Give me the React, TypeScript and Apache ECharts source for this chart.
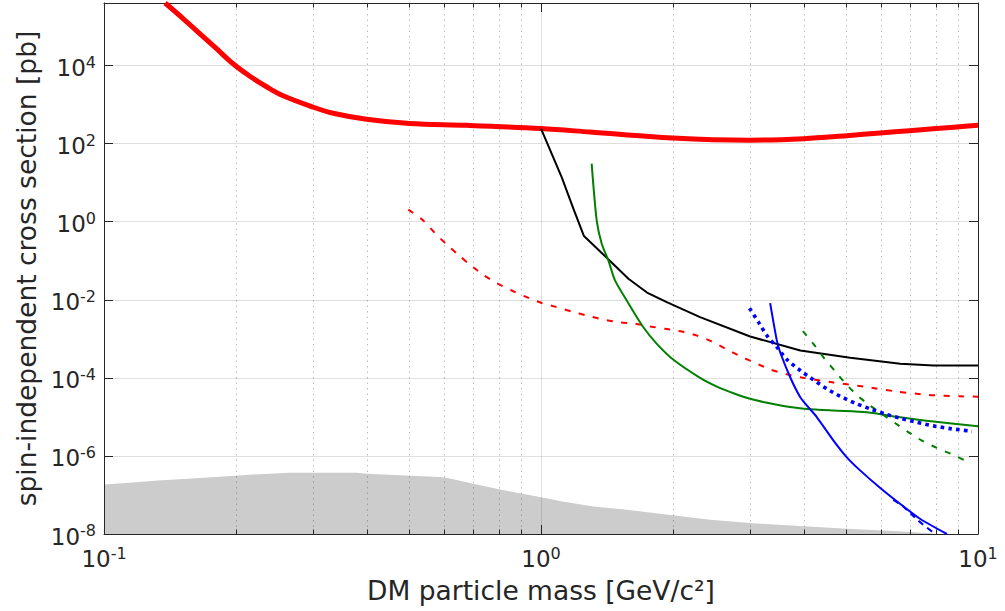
import React, { useEffect, useRef } from "react";
import * as echarts from "echarts";

// ---- axes ----
const X_MIN = 0.1;
const X_MAX = 10;
const Y_MIN = 1e-8;
const Y_MAX = 4e5;
const X_TICKS = [0.1, 1, 10];
const X_MINOR = [0.2, 0.3, 0.4, 0.5, 0.6, 0.7, 0.8, 0.9, 2, 3, 4, 5, 6, 7, 8, 9];
const Y_TICKS = [1e-8, 1e-6, 1e-4, 1e-2, 1, 1e2, 1e4];
const X_TITLE = "DM particle mass [GeV/c²]";
const Y_TITLE = "spin-independent cross section [pb]";

// ---- series (mass in GeV/c², cross section in pb) ----
const RED_THICK_X = [0.138, 0.1517, 0.1656, 0.1809, 0.1974, 0.2157, 0.2355, 0.257, 0.2995, 0.3346, 0.399, 0.501, 0.676, 1.0, 1.295, 2.0, 3.0, 3.99, 5.01, 5.97, 6.97, 8.95, 10];
const RED_THICK_Y = [4.0e5, 1.6e5, 6.6e4, 2.7e4, 1.11e4, 5320, 2860, 1683, 879, 598, 420, 326, 294, 243, 198, 139, 122, 134, 160, 187, 215, 267, 294];

const BLACK_X = [1.0, 1.115, 1.186, 1.254, 1.414, 1.585, 1.748, 1.94, 2.312, 3.01, 3.92, 5.1, 6.64, 7.91, 10];
const BLACK_Y = [243, 13.9, 2.15, 0.428, 0.119, 0.0345, 0.0153, 0.00867, 0.00358, 0.001146, 5.0e-4, 3.26e-4, 2.29e-4, 2.07e-4, 2.07e-4];

const RED_DASH_X = [0.497, 0.5376, 0.572, 0.608, 0.6466, 0.6877, 0.7376, 0.7917, 0.857, 0.919, 1.0, 1.086, 1.176, 1.272, 1.389, 1.503, 1.642, 1.777, 1.923, 2.1, 2.273, 2.46, 2.639, 2.856, 3.09, 3.345, 3.62, 3.92, 4.67, 5.47, 6.53, 7.71, 9.11, 10];
const RED_DASH_Y = [2.03, 1.08, 0.51, 0.262, 0.1426, 0.0789, 0.0437, 0.0267, 0.0173, 0.01216, 0.00838, 0.00646, 0.00501, 0.00396, 0.00312, 0.00267, 0.00243, 0.00207, 0.0018, 0.00154, 0.001216, 8.53e-4, 5.64e-4, 3.58e-4, 2.43e-4, 1.63e-4, 1.27e-4, 1.035e-4, 7.57e-5, 5.98e-5, 4.45e-5, 3.66e-5, 3.37e-5, 3.3e-5];

const GREEN_X = [1.306, 1.341, 1.377, 1.426, 1.477, 1.571, 1.715, 1.841, 2.01, 2.312, 2.526, 2.757, 3.01, 3.29, 3.587, 4.06, 4.67, 5.57, 6.64, 7.91, 10];
const GREEN_Y = [30.7, 1.08, 0.273, 0.102, 0.0313, 0.0096, 0.00198, 7.44e-4, 2.9e-4, 1.0e-4, 5.98e-5, 4.03e-5, 2.9e-5, 2.29e-5, 1.91e-5, 1.6e-5, 1.45e-5, 1.31e-5, 9.77e-6, 7.58e-6, 5.74e-6];

const GREEN_DASH_X = [3.976, 4.24, 4.47, 4.71, 4.97, 5.28, 5.62, 6.03, 6.47, 6.94, 7.44, 8.05, 8.72, 9.39];
const GREEN_DASH_Y = [1.57e-3, 6.46e-4, 2.94e-4, 1.48e-4, 7.27e-5, 3.66e-5, 2.07e-5, 1.19e-5, 6.85e-6, 4.03e-6, 2.47e-6, 1.6e-6, 1.1e-6, 7.45e-7];

const BLUE_X = [3.345, 3.465, 3.526, 3.717, 3.92, 4.06, 4.28, 4.67, 5.01, 5.38, 5.975, 6.64, 7.38, 8.49];
const BLUE_Y = [8.18e-3, 9.0e-4, 4.53e-4, 1.035e-4, 3.18e-5, 1.95e-5, 9.77e-6, 2.47e-6, 9.2e-7, 4.2e-7, 1.51e-7, 5.87e-8, 2.42e-8, 1.0e-8];

const BLUE_DOT_X = [3.0, 3.146, 3.287, 3.465, 3.653, 3.92, 4.2, 4.51, 4.84, 5.24, 5.67, 6.13, 6.64, 7.25, 7.91, 8.64, 9.69];
const BLUE_DOT_Y = [6.1e-3, 2.67e-3, 1.216e-3, 6.1e-4, 2.94e-4, 1.54e-4, 8.9e-5, 5.22e-5, 3.38e-5, 2.23e-5, 1.6e-5, 1.19e-5, 9.2e-6, 7.27e-6, 5.88e-6, 5.0e-6, 4.27e-6];

const BLUE_DASH_X = [6.4, 6.75, 7.3, 7.98];
const BLUE_DASH_Y = [7.5e-8, 5.0e-8, 2.19e-8, 1.0e-8];

const FLOOR_X = [0.1, 0.1146, 0.133, 0.1557, 0.184, 0.2194, 0.266, 0.3785, 0.399, 0.4754, 0.587, 0.608, 0.6877, 0.806, 1.0, 1.12, 1.318, 1.571, 2.0, 2.44, 3.0, 3.99, 5.01, 6.41, 7.78, 8.0];
const FLOOR_Y = [1.84e-7, 2.07e-7, 2.33e-7, 2.62e-7, 2.94e-7, 3.32e-7, 3.73e-7, 3.73e-7, 3.5e-7, 3.18e-7, 2.9e-7, 2.75e-7, 2.03e-7, 1.37e-7, 8.7e-8, 6.8e-8, 5.1e-8, 4.2e-8, 3.0e-8, 2.33e-8, 1.9e-8, 1.57e-8, 1.37e-8, 1.19e-8, 1.05e-8, 1.0e-8];

// ---- styles ----
const FONT = "DejaVu Sans";
const AXIS_COLOR = "#262626";
const GRID_COLOR = "rgba(38,38,38,0.15)";
const MINOR_GRID_COLOR = "rgba(38,38,38,0.3)";

const zip = (xs: number[], ys: number[]) => xs.map((x, i) => [x, ys[i]]);

const powLabel = (v: number) => `{b|10}{s|${Math.round(Math.log10(v))}}`;
const rich = {
  b: { fontFamily: FONT, fontSize: 23, lineHeight: 28, color: AXIS_COLOR },
  s: { fontFamily: FONT, fontSize: 16, lineHeight: 14, verticalAlign: "top", color: AXIS_COLOR },
};

function lineSeries(name: string, xs: number[], ys: number[], color: string, width: number, type: any, smooth: number | boolean, z = 3) {
  return {
    name,
    type: "line",
    data: zip(xs, ys),
    xAxisIndex: 0,
    yAxisIndex: 0,
    showSymbol: false,
    symbol: "none",
    smooth,
    z,
    silent: true,
    lineStyle: { color, width, type, cap: "butt", join: "round" },
  };
}

export default function App() {
  const ref = useRef<HTMLDivElement>(null);
  useEffect(() => {
    if (!ref.current) return;
    const chart = echarts.init(ref.current, undefined, { renderer: "svg" });
    const axisLine = { show: true, onZero: false, lineStyle: { color: AXIS_COLOR, width: 1 } };
    const option: any = {
      animation: false,
      backgroundColor: "#ffffff",
      grid: { left: 104, top: 3, right: 27, bottom: 77, containLabel: false },
      xAxis: [
        {
          type: "log",
          logBase: 10,
          position: "bottom",
          min: X_MIN,
          max: X_MAX,
          axisLine,
          axisTick: { show: true, inside: true, length: 9, customValues: X_TICKS, lineStyle: { color: AXIS_COLOR } },
          axisLabel: { customValues: X_TICKS, formatter: powLabel, rich, margin: 11, color: AXIS_COLOR },
          splitLine: { show: true, lineStyle: { color: GRID_COLOR, width: 1 } },
          name: X_TITLE,
          nameLocation: "middle",
          nameGap: 43,
          nameTextStyle: { fontFamily: FONT, fontSize: 26.5, color: AXIS_COLOR },
        },
        {
          type: "log",
          logBase: 10,
          position: "top",
          min: X_MIN,
          max: X_MAX,
          axisLine,
          axisTick: { show: true, inside: true, length: 9, customValues: X_TICKS, lineStyle: { color: AXIS_COLOR } },
          axisLabel: { show: false },
          splitLine: { show: false },
        },
      ],
      yAxis: [
        {
          type: "log",
          logBase: 10,
          position: "left",
          min: Y_MIN,
          max: Y_MAX,
          axisLine,
          axisTick: { show: true, inside: true, length: 9, customValues: Y_TICKS, lineStyle: { color: AXIS_COLOR } },
          axisLabel: { customValues: Y_TICKS, formatter: powLabel, rich, margin: 8, padding: [5, 0, 0, 0], color: AXIS_COLOR },
          splitLine: { show: true, lineStyle: { color: GRID_COLOR, width: 1 } },
          name: Y_TITLE,
          nameLocation: "middle",
          nameGap: 63,
          nameRotate: 90,
          nameTextStyle: { fontFamily: FONT, fontSize: 26.5, color: AXIS_COLOR },
        },
        {
          type: "log",
          logBase: 10,
          position: "right",
          min: Y_MIN,
          max: Y_MAX,
          axisLine,
          axisTick: { show: true, inside: true, length: 9, customValues: Y_TICKS, lineStyle: { color: AXIS_COLOR } },
          axisLabel: { show: false },
          splitLine: { show: false },
        },
      ],
      series: [
        {
          name: "floor",
          type: "line",
          data: zip(FLOOR_X, FLOOR_Y),
          xAxisIndex: 0,
          yAxisIndex: 0,
          showSymbol: false,
          symbol: "none",
          z: -1,
          silent: true,
          lineStyle: { width: 0, color: "#cccccc" },
          areaStyle: { color: "#cccccc", opacity: 1, origin: "start" },
        },
        {
          name: "minor",
          type: "custom",
          xAxisIndex: 0,
          yAxisIndex: 0,
          z: 1,
          silent: true,
          data: X_MINOR.map((v) => [v, Y_MIN]),
          renderItem: (params: any, api: any) => {
            const p = api.coord([api.value(0), api.value(1)]);
            const cs = params.coordSys;
            const top = cs.y;
            const bottom = cs.y + cs.height;
            const x = Math.round(p[0]) + 0.5;
            return {
              type: "group",
              children: [
                { type: "line", shape: { x1: x, y1: top, x2: x, y2: bottom }, style: { stroke: MINOR_GRID_COLOR, lineWidth: 1, lineDash: [1.5, 4] } },
                { type: "line", shape: { x1: x, y1: bottom, x2: x, y2: bottom - 4.5 }, style: { stroke: AXIS_COLOR, lineWidth: 1 } },
                { type: "line", shape: { x1: x, y1: top, x2: x, y2: top + 4.5 }, style: { stroke: AXIS_COLOR, lineWidth: 1 } },
              ],
            };
          },
        },
        lineSeries("red", RED_THICK_X, RED_THICK_Y, "#ff0000", 5, "solid", 0.35),
        lineSeries("black", BLACK_X, BLACK_Y, "#000000", 2, "solid", false),
        lineSeries("redDash", RED_DASH_X, RED_DASH_Y, "#ff0000", 2, [6, 8.5], 0.25),
        lineSeries("green", GREEN_X, GREEN_Y, "#008000", 2, "solid", 0.25),
        lineSeries("greenDash", GREEN_DASH_X, GREEN_DASH_Y, "#008000", 2, [6, 8.5], 0.25),
        lineSeries("blueDot", BLUE_DOT_X, BLUE_DOT_Y, "#0000ff", 3.6, [3.6, 4.2], 0.25),
        lineSeries("blue", BLUE_X, BLUE_Y, "#0000ff", 2, "solid", 0.25),
        lineSeries("blueDash", BLUE_DASH_X, BLUE_DASH_Y, "#0000ff", 2, [6, 5], 0.25),
      ],
    };
    chart.setOption(option);
    return () => chart.dispose();
  }, []);
  return (
    <div
      ref={ref}
      style={{ position: "fixed", left: 0, top: 0, width: 1005, height: 611, background: "#ffffff" }}
    />
  );
}
